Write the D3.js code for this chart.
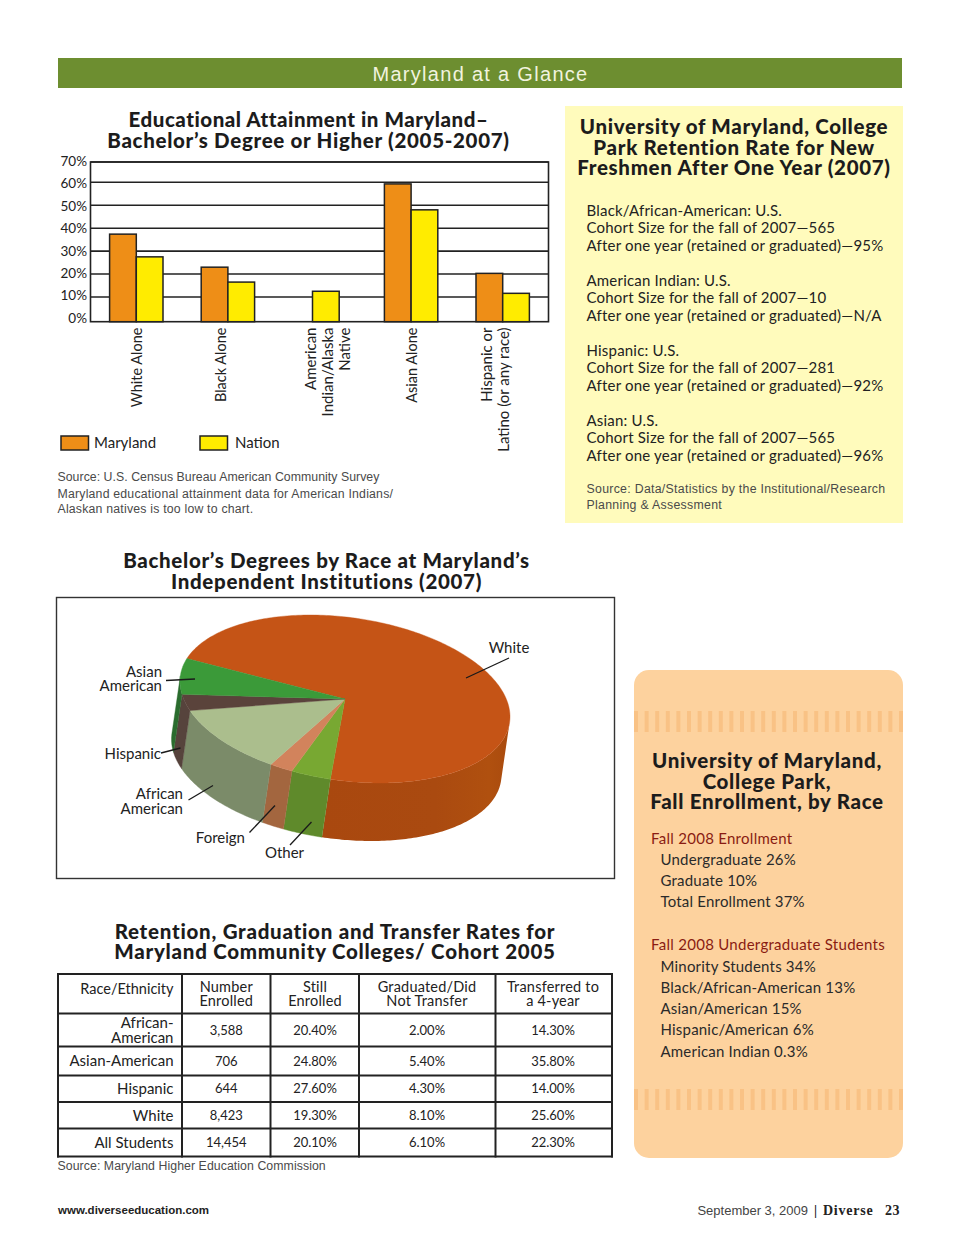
<!DOCTYPE html>
<html><head><meta charset="utf-8">
<script src="https://cdn.jsdelivr.net/npm/d3@7"></script>
<style>
html,body{margin:0;padding:0;background:#fff}
svg{display:block}
text{font-family:Lato,"Open Sans",sans-serif;fill:#222}
.h{font-weight:900;font-size:20.5px;letter-spacing:.68px;text-anchor:middle;fill:#1c1c1c}
.s{font-family:"Liberation Sans",Arial,sans-serif;font-size:12.3px;fill:#4a4a4a;letter-spacing:.1px}
</style></head><body>
<svg id="c" width="960" height="1247"></svg>
<script>
// ---------- bar chart data
const categories=["White Alone","Black Alone","American|Indian/Alaska|Native","Asian Alone","Hispanic or|Latino (or any race)"];
const seriesNames=["Maryland","Nation"];
const marylandValues=[37.4,23,null,59.3,20.3];
const nationValues=[27.5,16.5,12.5,48,11.6];
const yTicks=[0,10,20,30,40,50,60,70];
const labelNudge=[1,-7,8,1,-7];
// ---------- pie data (clockwise from the White/Asian edge)
const pieLabels=["White","Other","Foreign","African American","Hispanic","Asian American"];
const pieValues=[71.8,3.8,2.2,12.0,3.1,7.1];
const pieTop=["#C55416","#78A832","#D2835C","#ABBE8D","#5A433B","#3B9A39"];
const pieWall=["#A9490F","#5F8A2B","#A3663F","#7B8B69","#56433C","#2A6C2E"];
// ---------- table data
const tableHead=[["Race/Ethnicity"],["Number","Enrolled"],["Still","Enrolled"],["Graduated/Did","Not Transfer"],["Transferred to","a 4-year"]];
const tableRace=[["African-","American"],["Asian-American"],["Hispanic"],["White"],["All Students"]];
const tableEnrolled=["3,588","706","644","8,423","14,454"];
const tableStill=["20.40%","24.80%","27.60%","19.30%","20.10%"];
const tableGrad=["2.00%","5.40%","4.30%","8.10%","6.10%"];
const tableTransfer=["14.30%","35.80%","14.00%","25.60%","22.30%"];
// ---------- text panels
const retention=[["Black/African-American: U.S.","Cohort Size for the fall of 2007—565","After one year (retained or graduated)—95%"],
["American Indian: U.S.","Cohort Size for the fall of 2007—10","After one year (retained or graduated)—N/A"],
["Hispanic: U.S.","Cohort Size for the fall of 2007—281","After one year (retained or graduated)—92%"],
["Asian:  U.S.","Cohort Size for the fall of 2007—565","After one year (retained or graduated)—96%"]];
const enrollA=["Undergraduate 26%","Graduate 10%","Total Enrollment 37%"];
const enrollB=["Minority Students 34%","Black/African-American 13%","Asian/American 15%","Hispanic/American 6%","American Indian 0.3%"];

const svg=d3.select("#c");
const ink="#222";
function lines(g,arr,x,ys,cls,extra){arr.forEach((t,i)=>{const e=g.append("text").attr("x",x).attr("y",ys[i]).attr("dy","0.35em").text(t);if(cls)e.attr("class",cls);if(extra)extra(e,i);});}

// header
svg.append("rect").attr("x",58).attr("y",58).attr("width",844).attr("height",30).attr("fill","#6D8E30");
svg.append("text").attr("x",480.5).attr("y",73.5).attr("dy","0.35em").attr("text-anchor","middle")
 .style("font-family","'Liberation Sans',sans-serif").style("font-size","20px").style("letter-spacing","1.3px").style("fill","#F1F3DF").text("Maryland at a Glance");

// ---------- bar chart
lines(svg,["Educational Attainment in Maryland–","Bachelor’s Degree or Higher (2005-2007)"],308.5,[120,141],"h",(e,i)=>{if(i==0)e.style("letter-spacing",".52px");});
const L=90.5,R=548.5;
const x=d3.scaleBand().domain(categories).range([L,R]);
const xs=d3.scaleBand().domain(seriesNames).range([-26.7,26.7]);
const y=d3.scaleLinear().domain([0,10,60,70]).range([321.7,297,182.3,162]);
const yLab=d3.scaleLinear().domain([0,70]).range([318,161]);
const bar=svg.append("g");
bar.append("g").selectAll("line").data(yTicks.slice(1)).join("line")
 .attr("x1",L).attr("x2",R).attr("y1",d=>y(d)).attr("y2",d=>y(d)).attr("stroke",ink).attr("stroke-width",1.6);
bar.append("rect").attr("x",L).attr("y",y(70)).attr("width",R-L).attr("height",y(0)-y(70)).attr("fill","none").attr("stroke",ink).attr("stroke-width",1.6);
const axisL=d3.axisLeft(yLab).tickValues(yTicks).tickSize(0).tickPadding(0).tickFormat(d=>d+"%");
const ag=bar.append("g").attr("transform","translate(87,0)").call(axisL);
ag.select(".domain").remove();
ag.selectAll("text").style("font-size","13.5px").style("font-family","Lato");
const barFill={Maryland:"#EE8E17",Nation:"#FFEC00"};
[[seriesNames[0],marylandValues],[seriesNames[1],nationValues]].forEach(([s,vals])=>{
 bar.append("g").selectAll("rect").data(categories.map((c,i)=>({c,v:vals[i],solo:marylandValues[i]==null}))).join("rect")
  .filter(d=>d.v!=null)
  .attr("x",d=>x(d.c)+x.bandwidth()/2+xs(s)-(d.solo?7:0))
  .attr("y",d=>y(d.v)).attr("width",xs.bandwidth()).attr("height",d=>y(0)-y(d.v))
  .attr("fill",barFill[s]).attr("stroke",ink).attr("stroke-width",1.5);
});
categories.forEach((c,i)=>{
 const parts=c.split("|"),cx=x(c)+x.bandwidth()/2+labelNudge[i];
 parts.forEach((p,j)=>{
  const px=cx+(j-(parts.length-1)/2)*17;
  bar.append("text").attr("transform",`translate(${px},327.5) rotate(-90)`).attr("dy","0.35em").attr("text-anchor","end").style("font-size",parts.length==1?"14.5px":"15px").text(p);
 });
});
[[61,94,0],[200,235,1]].forEach(([a,b,i])=>{
 bar.append("rect").attr("x",a).attr("y",436).attr("width",27.5).attr("height",14).attr("fill",barFill[seriesNames[i]]).attr("stroke",ink).attr("stroke-width",1.5);
 bar.append("text").attr("x",b).attr("y",443).attr("dy","0.35em").style("font-size","15px").text(seriesNames[i]);
});
lines(svg,["Source: U.S. Census Bureau American Community Survey","Maryland educational attainment data for American Indians/","Alaskan natives is too low to chart."],57.5,[477,493.5,509],"s",(e,i)=>e.style("letter-spacing",[".04px",".2px",".2px"][i]));

// ---------- yellow panel
svg.append("rect").attr("x",565).attr("y",106).attr("width",338).attr("height",417).attr("fill","#FFFBBC");
lines(svg,["University of Maryland, College","Park Retention Rate for New","Freshmen After One Year (2007)"],734,[127,148,168],"h");
retention.forEach((b,i)=>lines(svg,b,586.5,[211,228,246].map(v=>v+70*i),null,e=>e.style("font-size","15px").style("letter-spacing",".2px")));
lines(svg,["Source: Data/Statistics by the Institutional/Research","Planning & Assessment"],586.5,[489,504.5],"s",e=>e.style("letter-spacing",".3px"));

// ---------- pie
lines(svg,["Bachelor’s Degrees by Race at Maryland’s","Independent Institutions (2007)"],326.5,[561,582],"h");
svg.append("rect").attr("x",56.5).attr("y",597.5).attr("width",558).attr("height",281).attr("fill","#fff").attr("stroke","#333").attr("stroke-width",1.4);
const cx=345,cy=699,A=165,B=82.1,C=17.7,dx=-8.5,dy=58;
const P=t=>[cx+A*Math.cos(t),cy+C*Math.cos(t)+B*Math.sin(t)];
const facing=t=>{const px=-A*Math.sin(t),py=-C*Math.sin(t)+B*Math.cos(t);return py*dx-px*dy>0;};
const t0=196.6*Math.PI/180;
const arcs=d3.pie().sort(null).startAngle(t0).endAngle(t0+2*Math.PI)(pieValues);
const pg=svg.append("g");
const grad=svg.append("defs").append("linearGradient").attr("id","ww").attr("gradientUnits","userSpaceOnUse").attr("x1",320).attr("x2",512).attr("y1",0).attr("y2",0);
[[0,"#A9480F"],[.6,"#AA4A10"],[.88,"#B0500F"],[1,"#A94A0E"]].forEach(([o,c])=>grad.append("stop").attr("offset",o).attr("stop-color",c));
const sample=(a,b)=>{const n=Math.max(2,Math.ceil((b-a)/(Math.PI/180)));return d3.range(n+1).map(i=>a+(b-a)*i/n);};
arcs.forEach((a,i)=>{
 const ts=sample(a.startAngle,a.endAngle).filter(facing);
 if(ts.length<2)return;
 const top=ts.map(P),bot=ts.map(P).map(p=>[p[0]+dx,p[1]+dy]).reverse();
 pg.append("path").attr("d",d3.line()(top.concat(bot))+"Z").attr("fill",i===0?"url(#ww)":pieWall[i]).attr("stroke",i===0?"none":pieWall[i]).attr("stroke-width",.4);
});
arcs.forEach((a,i)=>{
 const pts=[[cx,cy]].concat(sample(a.startAngle,a.endAngle).map(P));
 pg.append("path").attr("d",d3.line()(pts)+"Z").attr("fill",pieTop[i]).attr("stroke",pieTop[i]).attr("stroke-width",.4);
});
const pieNotes=[
 {t:["White"],x:509,y:[648],a:"middle",l:[509,658,466,678]},
 {t:["Asian","American"],x:162,y:[672,686],a:"end",l:[166,680.5,195,679]},
 {t:["Hispanic"],x:161,y:[754],a:"end",l:[161,753,180.5,748]},
 {t:["African","American"],x:183,y:[794,808.5],a:"end",l:[188.5,800,213,785.5]},
 {t:["Foreign"],x:245,y:[838],a:"end",l:[249.5,832.5,275,805.5]},
 {t:["Other"],x:284.5,y:[853],a:"middle",l:[290,845,311.5,822]}];
pieNotes.forEach(n=>{
 lines(pg,n.t,n.x,n.y,null,e=>e.attr("text-anchor",n.a).style("font-size","15px"));
 pg.append("line").attr("x1",n.l[0]).attr("y1",n.l[1]).attr("x2",n.l[2]).attr("y2",n.l[3]).attr("stroke","#1a1a1a").attr("stroke-width",1.3);
});

// ---------- table
lines(svg,["Retention, Graduation and Transfer Rates for","Maryland Community Colleges/ Cohort 2005"],335,[931.5,951.5],"h",e=>e.style("letter-spacing",".74px"));
const colX=[58,182,270.5,359,495.5,612],rowY=[974,1013.5,1046.5,1075.5,1102,1128.5,1156.5];
const colC=[173.5,226.3,315,427,553];
const tb=svg.append("g");
colX.forEach(v=>tb.append("line").attr("x1",v).attr("x2",v).attr("y1",973).attr("y2",1157.5).attr("stroke",ink).attr("stroke-width",2));
rowY.forEach(v=>tb.append("line").attr("x1",57).attr("x2",613).attr("y1",v).attr("y2",v).attr("stroke",ink).attr("stroke-width",2));
const cellLines=(arr,xx,yc,anchor,size,sp)=>arr.forEach((t,i)=>tb.append("text").attr("x",xx).attr("y",yc+(i-(arr.length-1)/2)*14.5).attr("dy","0.35em").attr("text-anchor",anchor).style("font-size",size).style("letter-spacing",sp||"0").text(t));
tableHead.forEach((h,i)=>cellLines(h,colC[i],i==0?989:994,i==0?"end":"middle","14.5px",i==0?"0":".2px"));
const rowCols=[tableEnrolled,tableStill,tableGrad,tableTransfer];
tableRace.forEach((r,j)=>{
 const yc=(rowY[j+1]+rowY[j+2])/2;
 cellLines(r,colC[0],yc,"end","15px");
 rowCols.forEach((c,k)=>cellLines([c[j]],colC[k+1],yc,"middle","13px"));
});
lines(svg,["Source: Maryland Higher Education Commission"],57.5,[1166],"s",e=>e.style("letter-spacing",".07px"));

// ---------- orange panel
const ob=svg.append("g");
ob.append("rect").attr("x",634).attr("y",670).attr("width",269).attr("height",488).attr("rx",15).attr("fill","#FDD29E");
[711,1089].forEach(y0=>d3.range(26).forEach(i=>ob.append("rect").attr("x",634+i*10.6).attr("y",y0).attr("width",4).attr("height",21).attr("fill","#F9C285")));
lines(svg,["University of Maryland,","College Park,","Fall Enrollment, by Race"],767,[761,781.5,802],"h");
const red=e=>e.style("font-size","15px").style("letter-spacing",".28px").style("fill","#8A1C12");
const dark=e=>e.style("font-size","15px").style("letter-spacing",".2px").style("fill","#2a2a2a");
lines(svg,["Fall 2008 Enrollment"],651,[838.5],null,red);
lines(svg,enrollA,660.5,[860,881,902],null,dark);
lines(svg,["Fall 2008 Undergraduate Students"],651,[945],null,red);
lines(svg,enrollB,660.5,[966.5,987.5,1009,1030,1051.5],null,dark);

// ---------- footer
const foot=(t,xx,anchor,fam,wt,sz,fill,sp)=>svg.append("text").attr("x",xx).attr("y",1210).attr("dy","0.35em").attr("text-anchor",anchor).style("font-family",fam).style("font-weight",wt).style("font-size",sz).style("fill",fill).style("letter-spacing",sp).text(t);
foot("www.diverseeducation.com",58,"start","'Liberation Sans',sans-serif",700,"11.5px","#222","0");
foot("September 3, 2009",808,"end","'Liberation Sans',sans-serif",400,"13px","#444","0");
foot("|",814,"start","'Liberation Serif',serif",700,"14px","#222","0");
foot("Diverse",823,"start","'Liberation Serif',serif",700,"14px","#222",".75px");
foot("23",900,"end","'Liberation Serif',serif",700,"14px","#222",".5px");
</script>
</body></html>
